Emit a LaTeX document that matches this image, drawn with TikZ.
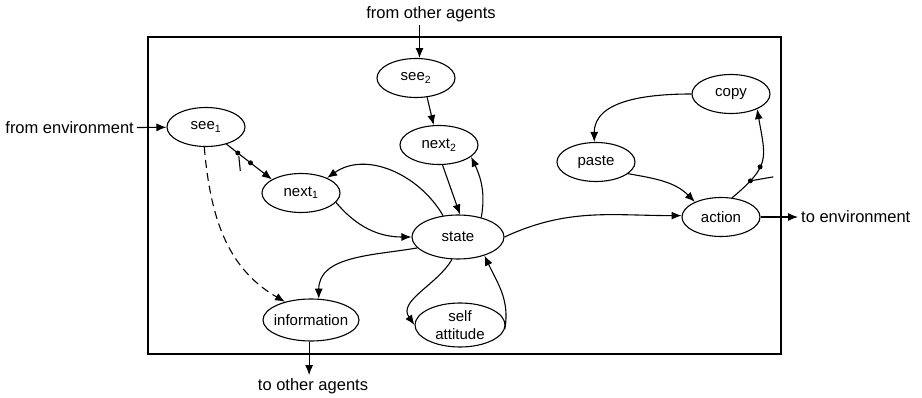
\documentclass[tikz,border=0pt]{standalone}
\usepackage{fontspec}
\setmainfont{Liberation Sans}
\usetikzlibrary{shapes.geometric,arrows.meta}
\tikzset{
    module/.style = {ellipse, draw=black, line width=1.1pt, minimum width=78pt, minimum height=39pt, inner sep=-8pt, align=center, font=\fontsize{15}{18}\selectfont},
    port/.style = {inner sep=3pt, font=\fontsize{16.5}{19}\selectfont},
    arrow/.style = {line width=1.1pt, -{Latex[length=10pt,width=8pt]}},
    link/.style = {line width=1.1pt}
}

\begin{document}
\begin{tikzpicture}[x=1pt, y=1pt]
\useasboundingbox (0,0) rectangle (922,397);
\draw [line width=1.2pt] (148,43) rectangle (781,360);

\node (see1) [module] at (206,270) {see\textsubscript{1}};
\node (see2) [module] at (416,319) {see\textsubscript{2}};
\node (next2) [module] at (439,252) {next\textsubscript{2}};
\node (next1) [module] at (301,204) {next\textsubscript{1}};
\node (state) [module, minimum width=92pt, minimum height=44pt] at (458,160) {state};
\node (information) [module, minimum width=96pt, minimum height=42pt] at (311,77) {information};
\node (selfatt) [module, minimum width=90pt, minimum height=44pt] at (460,72) {self\\attitude};
\node (copy) [module] at (731,303) {copy};
\node (paste) [module] at (596,235) {paste};
\node (action) [module] at (721,180) {action};

\node (fromenv) [port, anchor=east] at (137,269) {from environment};
\node (fromagents) [port] at (431,383) {from other agents};
\node (toenv) [port, anchor=west] at (798,180) {to environment};
\node (toagents) [port] at (313,11) {to other agents};

\draw [arrow] (fromenv) -- (see1);
\draw [arrow] (fromagents.south -| see2.80) -- (see2.80);
\draw [arrow] (action) -- (toenv);
\draw [arrow] (information.-95) -- (information.-95 |- toagents.north);

\draw [arrow] (see2.-60) -- (next2.105);
\draw [arrow] (next2.-80) -- (state.85);
\draw [arrow] (state.40) to[out=80,in=-65] (next2.-20);
\draw [arrow] (state.125) to[out=120,in=35] (next1.30);
\draw [arrow] (next1.-15) to[out=-50,in=180] (state.west);
\draw [arrow] (state.195) to[out=190,in=90] (information.70);
\draw [arrow] (state.-105) to[out=-120,in=125] (selfatt.west);
\draw [arrow] (selfatt.-5) to[out=80,in=-65] (state.-35);
\draw [arrow, dash pattern=on 8pt off 5pt] (see1.-95) to[out=-85,in=150] (information.145);
\draw [arrow] (see1.-40) -- coordinate[pos=0.25] (g1) coordinate[pos=0.53] (g2) (next1.155);

\draw [arrow] (state.east) to[out=25,in=180] (action.178);
\draw [arrow] (paste.-20) to[out=-10,in=135] (action.150);
\draw [arrow] (copy.west) to[out=180,in=90] (paste.95);
\draw [arrow] (action.60) to[out=40,in=-80,looseness=1.4] coordinate[pos=0.2] (h1) coordinate[pos=0.4] (h2) (copy.-30);

\fill (g1) circle (2.5pt);
\fill (g2) circle (2.5pt);
\draw [link] (g1) ++(1,-3) -- ++(1.5,-15);
\fill (h1) circle (2.5pt);
\fill (h2) circle (2.5pt);
\draw [link] (h1) -- ++(23,4);
\end{tikzpicture}
\end{document}
